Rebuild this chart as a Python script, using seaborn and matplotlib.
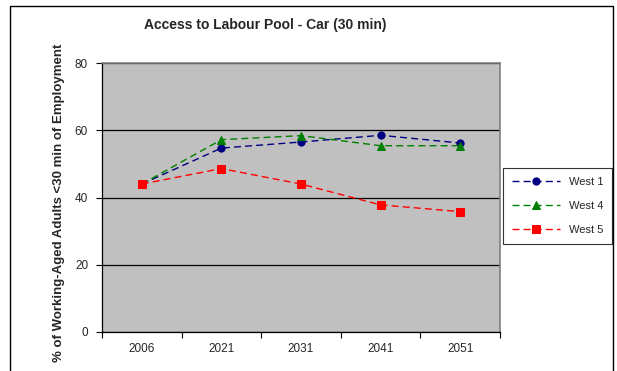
import matplotlib
matplotlib.use("Agg")
import matplotlib.pyplot as plt
import seaborn as sns
import pandas as pd
import numpy as np
from matplotlib.patches import Rectangle

years = ["2006", "2021", "2031", "2041", "2051"]
west1 = [44.0, 54.7, 56.5, 58.5, 56.2]
west4 = [44.0, 57.2, 58.4, 55.4, 55.4]
west5 = [44.0, 48.6, 44.0, 37.8, 35.8]
series_names = ["West 1", "West 4", "West 5"]
colors = ["#000080", "#008000", "#FF0000"]
markers = ["o", "^", "s"]

sns.set_theme(style="white")
plt.rcParams["font.family"] = ["Liberation Sans", "DejaVu Sans"]

rows = []
for name, vals in zip(series_names, [west1, west4, west5]):
    for i, v in enumerate(vals):
        rows.append({"pos": i, "value": v, "series": name})
df = pd.DataFrame(rows)

fig = plt.figure(figsize=(6.17, 3.71), dpi=100)
ax = fig.add_axes([102/617, 1-332/371, (500-102)/617, (332-63)/371])
ax.set_facecolor("#C0C0C0")

for name, c, m in zip(series_names, colors, markers):
    sub = df[df["series"] == name]
    sns.lineplot(data=sub, x="pos", y="value", ax=ax, color=c, marker=m,
                 markersize=5.2, markeredgecolor=c, linewidth=1.0,
                 dashes=False, label=name)
for line in ax.get_lines():
    line.set_linestyle((0, (5, 3)))

ax.set_xlim(-0.5, 4.5)
ax.set_ylim(0, 80)
ax.set_yticks([0, 20, 40, 60, 80])
ax.yaxis.grid(True, color="black", linewidth=0.9)
ax.set_axisbelow(True)
ax.set_xticks(range(5))
ax.set_xticklabels(years, fontsize=8.5)
ax.set_xticks(np.arange(-0.5, 5.0, 1.0), minor=True)
ax.tick_params(axis="x", which="major", length=0, pad=8)
ax.tick_params(axis="x", which="minor", length=4, direction="out", color="black", width=0.8, bottom=True)
ax.tick_params(axis="y", length=4, direction="out", color="black", width=0.8, labelsize=8.5, left=True, pad=6)
for s in ["top", "right"]:
    ax.spines[s].set_color("#808080")
    ax.spines[s].set_linewidth(1.2)
for s in ["left", "bottom"]:
    ax.spines[s].set_color("black")
    ax.spines[s].set_linewidth(0.9)
ax.set_xlabel("")
ax.set_ylabel("% of Working-Aged Adults <30 min of Employment", fontsize=9.5, fontweight="bold")
ax.yaxis.set_label_coords(-(102-65)/398, 0.48)
fig.text(265/617, 1-25/371, "Access to Labour Pool - Car (30 min)", ha="center", va="center",
         fontsize=10, fontweight="bold")

leg = ax.legend(loc="upper left", bbox_to_anchor=(503/617, 1-168/371), bbox_transform=fig.transFigure,
                frameon=True, fancybox=False, fontsize=8, handlelength=4.3,
                borderpad=0.8, labelspacing=1.25, borderaxespad=0)
leg.get_frame().set_edgecolor("black")
leg.get_frame().set_linewidth(0.8)

fig.patches.append(Rectangle((10/617, -0.1), (613-10)/617, 1-6/371+0.1, transform=fig.transFigure,
                             fill=False, edgecolor="black", linewidth=1.0))

fig.savefig("out.png", dpi=100)
